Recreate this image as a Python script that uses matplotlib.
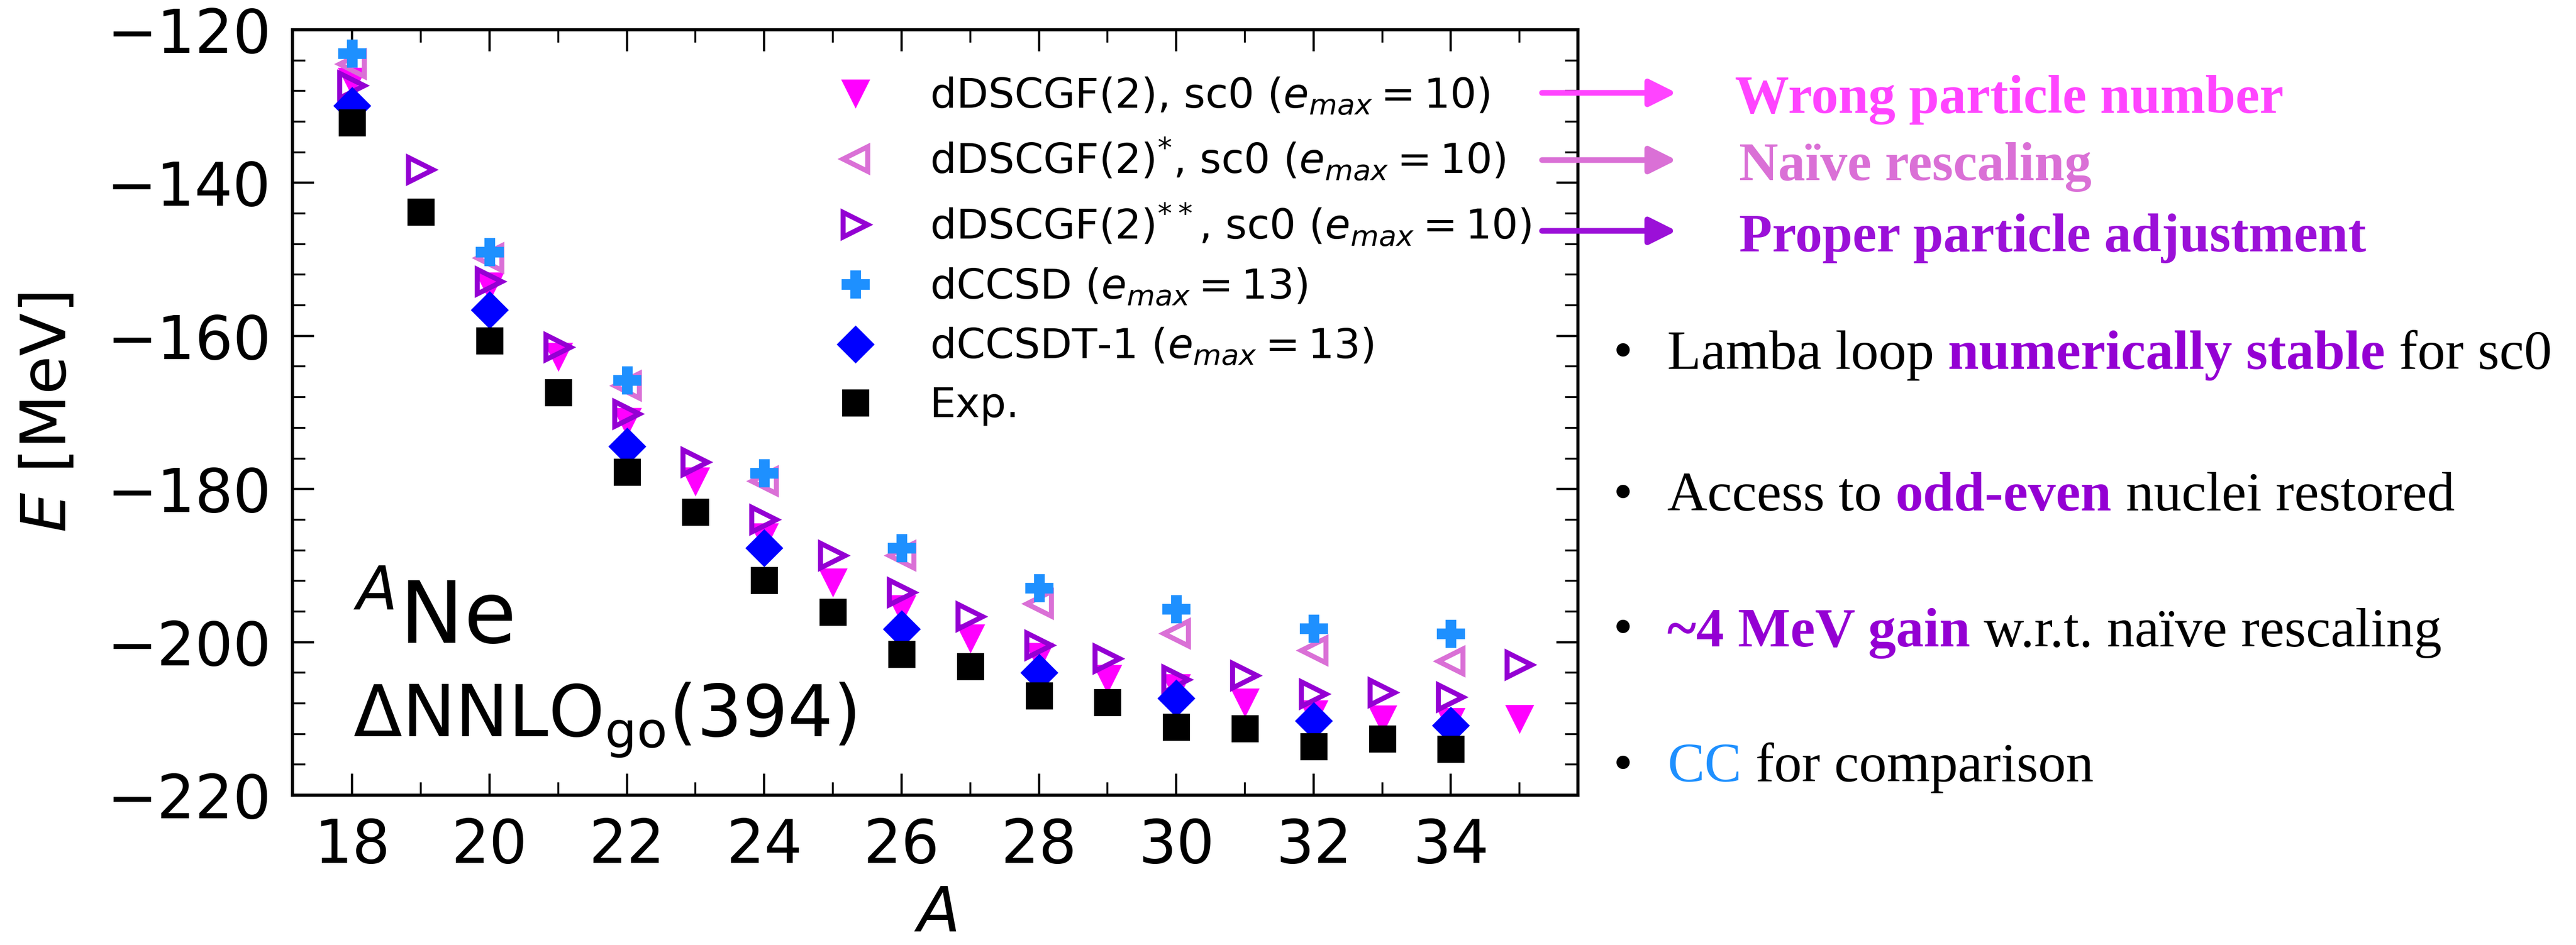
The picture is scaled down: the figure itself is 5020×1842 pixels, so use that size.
import matplotlib
matplotlib.use("Agg")
import matplotlib.pyplot as plt
from matplotlib.ticker import MultipleLocator
from matplotlib.patches import FancyArrowPatch

# ---------------- data ----------------
A_exp = [18, 19, 20, 21, 22, 23, 24, 25, 26, 27, 28, 29, 30, 31, 32, 33, 34]
E_exp = [-132.1, -143.8, -160.6, -167.4, -177.8, -183.0, -191.9, -196.1, -201.6,
         -203.2, -207.0, -207.9, -211.1, -211.3, -213.6, -212.6, -214.0]

A_even = [18, 20, 22, 24, 26, 28, 30, 32, 34]
E_ccsdt1 = [-129.9, -156.6, -174.4, -187.7, -198.3, -204.0, -207.3, -210.3, -210.9]
E_ccsd = [-123.1, -149.0, -165.8, -177.9, -187.7, -192.9, -195.7, -198.2, -198.9]
E_scgf_star = [-124.5, -149.8, -166.5, -179.0, -188.7, -195.0, -198.9, -201.1, -202.5]

A_scgf2 = [18, 19, 20, 21, 22, 23, 24, 25, 26, 27, 28, 29, 30, 31, 32, 33, 34, 35]
E_scgf_2star = [-127.3, -138.3, -152.9, -161.5, -170.2, -176.5, -184.0, -188.7, -193.5,
                -196.7, -200.4, -202.2, -204.9, -204.4, -206.8, -206.6, -207.2, -203.0]

A_scgf = [18, 20, 21, 22, 23, 24, 25, 26, 27, 28, 29, 30, 31, 32, 33, 34, 35]
E_scgf = [-126.8, -153.5, -162.7, -171.2, -179.0, -186.3, -192.2, -195.7, -199.5,
          -201.9, -204.8, -206.0, -207.9, -209.4, -210.1, -210.4, -210.0]

labels = [r"dDSCGF(2), sc0 ($e_{max}=10$)",
          r"dDSCGF(2)$^{*}$, sc0 ($e_{max}=10$)",
          r"dDSCGF(2)$^{**}$, sc0 ($e_{max}=10$)",
          r"dCCSD ($e_{max}=13$)",
          r"dCCSDT-1 ($e_{max}=13$)",
          "Exp."]

xticks = [18, 20, 22, 24, 26, 28, 30, 32, 34]
yticks = [-220, -200, -180, -160, -140, -120]

arrow_texts = ["Wrong particle number", "Naïve rescaling", "Proper particle adjustment"]

# ---------------- figure ----------------
W, H, DPI = 5020, 1842, 200
fig = plt.figure(figsize=(W / DPI, H / DPI), dpi=DPI)
ax = fig.add_axes([570 / W, 1 - 1550 / H, (3075 - 570) / W, (1550 - 58) / H])

C_MAG = "#FF00FF"
C_ORC = "#DA70D6"
C_VIO = "#9400D3"
C_DOD = "#1E90FF"
C_BLU = "#0000FF"

ax.plot(A_scgf, E_scgf, ls="none", marker="v", ms=19, color=C_MAG, mew=1, label=labels[0])
ax.plot(A_even, E_scgf_star, ls="none", marker="<", ms=17, mfc="none", mec=C_ORC, mew=3.5, label=labels[1])
ax.plot(A_scgf2, E_scgf_2star, ls="none", marker=">", ms=17, mfc="none", mec=C_VIO, mew=3.5, label=labels[2])
ax.plot(A_even, E_ccsd, ls="none", marker="P", ms=19, color=C_DOD, mew=1, label=labels[3])
ax.plot(A_even, E_ccsdt1, ls="none", marker="D", ms=18, color=C_BLU, mew=1, label=labels[4])
ax.plot(A_exp, E_exp, ls="none", marker="s", ms=18, color="black", mew=1, label=labels[5])

ax.set_xlim(17.13, 35.85)
ax.set_ylim(-220, -120)
ax.set_xticks(xticks)
ax.set_yticks(yticks)
ax.xaxis.set_minor_locator(MultipleLocator(1))
ax.yaxis.set_minor_locator(MultipleLocator(4))
ax.tick_params(which="both", direction="in", top=True, right=True, labelsize=42, pad=15)
ax.tick_params(which="major", length=15, width=1.6)
ax.tick_params(which="minor", length=9, width=1.3)
for s in ax.spines.values():
    s.set_linewidth(2.2)

ax.set_xlabel(r"$A$", fontsize=44, labelpad=6)
ax.set_ylabel(r"$E$ [MeV]", fontsize=44, labelpad=20)

ax.text(0.047, 0.1985, r"$^{A}$Ne", transform=ax.transAxes, fontsize=60, va="baseline")
ax.text(0.047, 0.077, r"$\Delta$NNLO$_{\mathrm{go}}$(394)", transform=ax.transAxes,
        fontsize=50, va="baseline")

leg = ax.legend(loc="upper left", bbox_to_anchor=(0.412, 0.94), frameon=False,
                fontsize=29, handlelength=1.6, handletextpad=1.0, labelspacing=0.45,
                borderaxespad=0.0, borderpad=0.0)

# ---------------- arrows and annotations ----------------
def fx(px):
    return px / W

def fy(py):
    return 1 - py / H

arrow_cols = ["#FF44FF", C_ORC, "#9B10D8"]
arrow_y = [181, 312, 450]
arrow_base = [220, 351, 490]
arrow_x0 = [3381, 3389, 3389]
for txt, col, y, b, x0 in zip(arrow_texts, arrow_cols, arrow_y, arrow_base, arrow_x0):
    arr = FancyArrowPatch((fx(3005), fy(y)), (fx(3267), fy(y)), transform=fig.transFigure,
                          arrowstyle="-|>,head_length=0.8,head_width=0.4", mutation_scale=20,
                          lw=4, color=col, shrinkA=0, shrinkB=0)
    fig.add_artist(arr)
    fig.text(fx(x0), fy(b), txt, fontsize=38, fontweight="bold", color=col,
             family="Liberation Serif", va="baseline", ha="left")

renderer = fig.canvas.get_renderer()
BSIZE = 39
space_px = 0.25 * BSIZE * DPI / 72

def rich(x_px, base_px, parts):
    x = x_px
    for s, col, bold in parts:
        t = fig.text(fx(x), fy(base_px), s, fontsize=BSIZE, color=col,
                     fontweight="bold" if bold else "normal",
                     family="Liberation Serif", va="baseline", ha="left")
        bb = t.get_window_extent(renderer)
        x += bb.width + space_px

bullets = [
    [("Lamba loop", "black", False), ("numerically stable", C_VIO, True), ("for sc0", "black", False)],
    [("Access to", "black", False), ("odd-even", C_VIO, True), ("nuclei restored", "black", False)],
    [("~4 MeV gain", C_VIO, True), ("w.r.t. naïve rescaling", "black", False)],
    [("CC", C_DOD, False), ("for comparison", "black", False)],
]
bullet_base = [719, 995, 1260, 1523]
bullet_cy = [692, 968, 1231, 1496]
for parts, b, cy in zip(bullets, bullet_base, bullet_cy):
    fig.text(fx(3163), fy(cy), "•", fontsize=BSIZE, family="Liberation Serif",
             va="center", ha="center", color="black")
    rich(3249, b, parts)

fig.savefig("out.png", dpi=DPI)
